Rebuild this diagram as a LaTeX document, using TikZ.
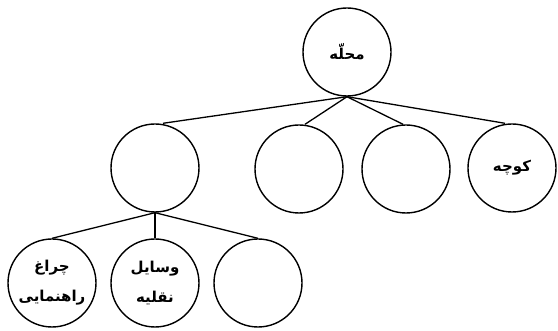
\documentclass[tikz,border=0pt]{standalone}
\usepackage{fontspec}
\usepackage{tikz}
\usetikzlibrary{positioning}
\TeXXeTstate=1
\newfontfamily\arabicfont[Script=Arabic]{DejaVu Sans}
\tikzset{
  place/.style={circle, draw, line width=1.4pt, minimum size=88pt, inner sep=0pt,
    align=center, font=\arabicfont\bfseries\fontsize{15}{30}\selectfont},
  link/.style={line width=1.3pt}
}

\begin{document}
\begin{tikzpicture}[x=1pt, y=-1pt]
  \useasboundingbox (0,0) rectangle (558,331);
  % root
  \node[place] (mahalle) at (347,52) {\beginR محلّه\endR};
  % second row
  \node[place] (r1) at (155,168) {};
  \node[place] (r2) at (299,169) {};
  \node[place] (r3) at (406,169) {};
  \node[place] (kuche) at (512,168) {\beginR کوچه\endR};
  % third row
  \node[place] (cheragh) at (52,283) {\beginR چراغ\endR\\ \beginR راهنمایی\endR};
  \node[place] (vasayel) at (155,283) {\beginR وسایل\endR\\ \beginR نقلیه\endR};
  \node[place] (r4) at (258,283) {};
  % links
  \coordinate (top) at (mahalle.south);
  \draw[link] (top) -- ([xshift=8pt]r1.north);
  \draw[link] (top) -- ([xshift=6pt]r2.north);
  \draw[link] (top) -- ([xshift=-3pt]r3.north);
  \draw[link] (top) -- ([xshift=-7pt]kuche.north);
  \coordinate (mid) at (r1.south);
  \draw[link] (mid) -- (cheragh.north);
  \draw[link] (mid) -- (vasayel.north);
  \draw[link] (mid) -- (r4.north);
\end{tikzpicture}
\end{document}
